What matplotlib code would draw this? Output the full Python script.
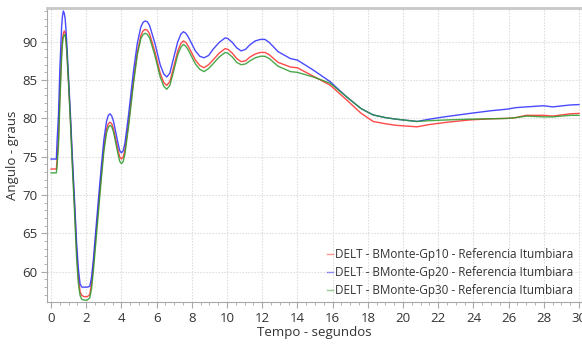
import matplotlib
matplotlib.use("Agg")
import matplotlib.pyplot as plt
from matplotlib.ticker import MultipleLocator

plt.rcParams['font.family'] = ['Open Sans', 'DejaVu Sans']

# Time axis (s) shared by the three rotor-angle series
tempo = [0, 0.3, 0.34, 0.42, 0.5, 0.6, 0.65, 0.7, 0.75, 0.8, 0.85, 0.9, 1.0, 1.1,
         1.2, 1.33, 1.45, 1.55, 1.65, 1.75, 1.9, 2.05, 2.2, 2.3, 2.4, 2.55, 2.7,
         2.85, 3.0, 3.15, 3.25, 3.35, 3.45, 3.55, 3.8, 3.9, 4.0, 4.1, 4.2, 4.4,
         4.68, 4.9, 5.1, 5.22, 5.34, 5.47, 5.6, 5.9, 6.2, 6.4, 6.57, 6.75, 6.9,
         7.2, 7.38, 7.52, 7.66, 7.8, 8.2, 8.45, 8.69, 8.95, 9.2, 9.55, 9.89,
         10.05, 10.3, 10.55, 10.8, 11.05, 11.3, 11.6, 11.9, 12.15, 12.4, 12.9,
         13.6, 14.0, 14.9, 15.85, 16.8, 17.6, 18.3, 19.0, 19.6, 20.8, 21.5, 22.5,
         23.8, 25.0, 25.9, 26.4, 27.0, 28.0, 28.5, 29.5, 30.0]

gp10 = [73.4, 73.4, 74.5, 77.5, 83.0, 88.8, 90.4, 91.1, 91.4, 91.2, 90.2, 88.5,
        84.3, 79.8, 74.8, 68.8, 62.8, 59.2, 57.4, 56.9, 56.75, 56.75, 57.0, 58.5,
        60.8, 64.8, 68.8, 72.6, 76.2, 78.6, 79.3, 79.5, 79.3, 78.6, 75.9, 75.0,
        74.7, 75.0, 75.9, 79.3, 84.9, 88.6, 90.8, 91.4, 91.6, 91.5, 91.0, 88.7,
        85.9, 84.7, 84.3, 84.8, 86.1, 88.8, 89.8, 90.1, 89.9, 89.4, 87.6, 86.9,
        86.6, 87.0, 87.6, 88.5, 89.1, 89.0, 88.5, 87.8, 87.4, 87.5, 88.0, 88.4,
        88.6, 88.6, 88.3, 87.3, 86.7, 86.6, 85.5, 84.35, 82.4, 80.7, 79.6, 79.3,
        79.1, 78.9, 79.2, 79.5, 79.8, 79.95, 80.0, 80.1, 80.4, 80.4, 80.3, 80.6,
        80.65]

gp20 = [74.7, 74.7, 77.0, 80.4, 86.5, 92.0, 93.4, 94.0, 93.7, 93.0, 91.5, 89.5,
        85.0, 80.5, 75.5, 69.4, 63.8, 60.4, 58.4, 58.0, 58.0, 58.0, 58.1, 59.3,
        61.5, 65.6, 69.7, 73.6, 77.2, 79.6, 80.4, 80.6, 80.3, 79.6, 76.8, 75.8,
        75.5, 75.8, 76.8, 80.4, 86.1, 89.8, 91.9, 92.5, 92.7, 92.6, 92.1, 89.8,
        87.0, 85.8, 85.4, 85.9, 87.3, 90.0, 91.0, 91.3, 91.1, 90.6, 88.8, 88.1,
        87.9, 88.2, 89.0, 89.9, 90.5, 90.4, 89.9, 89.2, 88.8, 89.0, 89.6, 90.1,
        90.3, 90.3, 89.9, 88.7, 87.8, 87.6, 86.3, 84.8, 82.8, 81.3, 80.45, 80.1,
        79.9, 79.6, 79.9, 80.25, 80.65, 81.0, 81.2, 81.4, 81.5, 81.65, 81.5, 81.75,
        81.8]

gp30 = [72.9, 72.9, 73.8, 76.5, 82.0, 88.0, 89.8, 90.6, 90.9, 90.9, 90.0, 88.5,
        84.3, 79.5, 74.2, 68.0, 61.8, 58.5, 56.9, 56.4, 56.3, 56.3, 56.6, 57.8,
        60.0, 64.0, 68.0, 72.0, 75.7, 78.1, 78.8, 79.1, 78.9, 78.2, 75.4, 74.4,
        74.1, 74.4, 75.4, 78.9, 84.5, 88.3, 90.4, 90.9, 91.1, 90.95, 90.5, 88.2,
        85.4, 84.2, 83.8, 84.3, 85.6, 88.3, 89.3, 89.65, 89.4, 88.9, 87.1, 86.4,
        86.1, 86.5, 87.1, 88.0, 88.6, 88.5, 88.0, 87.3, 87.0, 87.1, 87.5, 87.9,
        88.1, 88.1, 87.8, 86.8, 86.1, 86.0, 85.4, 84.6, 82.8, 81.3, 80.45, 80.1,
        79.9, 79.6, 79.7, 79.8, 79.9, 79.95, 80.0, 80.1, 80.3, 80.2, 80.2, 80.4,
        80.4]

rotulos = ["DELT - BMonte-Gp10 - Referencia Itumbiara",
           "DELT - BMonte-Gp20 - Referencia Itumbiara",
           "DELT - BMonte-Gp30 - Referencia Itumbiara"]
cores = ["#ff2a2a", "#2a2aff", "#2a9a2a"]

fig = plt.figure(figsize=(5.82, 3.45), dpi=100)
ax = fig.add_axes([0.0808, 0.1246, 0.9192, 0.8508])

for serie, rot, cor in zip([gp10, gp20, gp30], rotulos, cores):
    ax.plot(tempo, serie, color=cor, lw=1.0, alpha=0.85, label=rot,
            solid_joinstyle='round')

ax.set_xlim(-0.23, 30.17)
ax.set_ylim(56.06, 94.33)
ax.xaxis.set_major_locator(MultipleLocator(2))
ax.xaxis.set_minor_locator(MultipleLocator(0.5))
ax.yaxis.set_major_locator(MultipleLocator(5))
ax.yaxis.set_minor_locator(MultipleLocator(1))

ax.grid(True, which='major', color='#d8d8d8', lw=0.8, ls=(0, (1.2, 1.5)))
ax.set_axisbelow(True)

for s in ['left', 'bottom']:
    ax.spines[s].set_color('#a8a8a8')
    ax.spines[s].set_linewidth(0.8)
ax.spines['right'].set_visible(False)
ax.spines['top'].set_color('#c8c8c8')
ax.spines['top'].set_linewidth(2.0)

ax.tick_params(which='major', length=4, width=0.8, color='#a8a8a8',
               labelsize=9.5, labelcolor='#333333', pad=3)
ax.tick_params(which='minor', length=2, width=0.6, color='#a8a8a8')

ax.set_xlabel("Tempo - segundos", fontsize=9.5, color='#333333', labelpad=1)
ax.set_ylabel("Angulo - graus", fontsize=9.5, color='#333333', labelpad=2)

leg = ax.legend(loc='lower right', frameon=False, fontsize=8.5,
                handlelength=0.5, handletextpad=0.2, labelspacing=0.45,
                borderaxespad=0.3, bbox_to_anchor=(1.0, -0.012))
for txt in leg.get_texts():
    txt.set_color('#333333')
for h in leg.legend_handles:
    h.set_alpha(0.5)

fig.savefig("out.png", dpi=100)
